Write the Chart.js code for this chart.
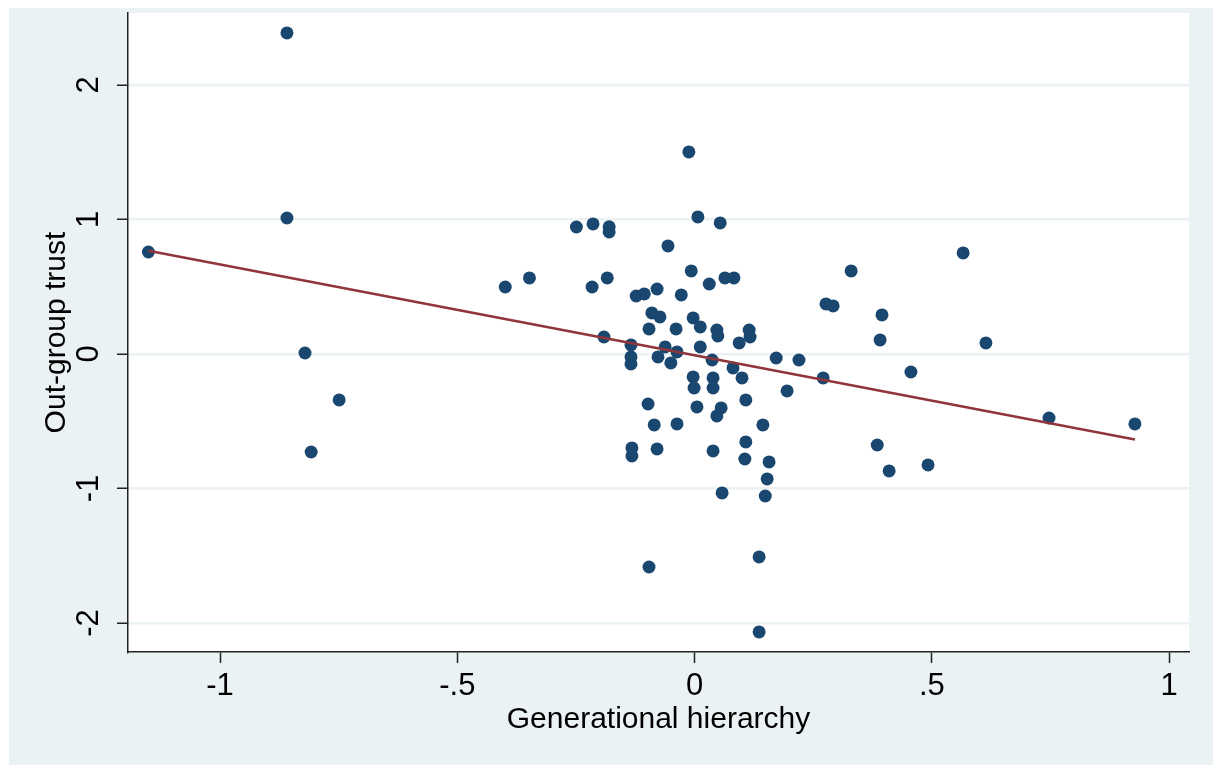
<!DOCTYPE html>
<html>
<head>
<meta charset="utf-8">
<script src="https://cdn.jsdelivr.net/npm/chart.js@4"></script>
<style>
  html, body { margin: 0; padding: 0; background: #fff; }
  #wrap { width: 1223px; height: 765px; position: relative; }
</style>
</head>
<body>
<div id="wrap"><canvas id="trustChart"></canvas></div>
<script>
// values (x = generational hierarchy, y = out-group trust)
const hierarchy = [
  -1.151, -0.859, -0.859, -0.821, -0.808, -0.749, -0.399, -0.348, -0.249, -0.214,
  -0.180, -0.180, -0.216, -0.184, -0.012, 0.007, 0.054, -0.056, -0.007, 0.031,
  0.064, 0.083, -0.123, -0.106, -0.079, -0.028, -0.090, -0.073, -0.096, -0.039,
  -0.003, 0.012, 0.047, 0.049, 0.115, 0.117, 0.094, -0.191, -0.134, -0.134,
  -0.134, -0.062, -0.037, -0.077, -0.050, 0.012, 0.037, 0.081, 0.100, 0.172,
  0.220, 0.195, -0.003, -0.001, 0.039, 0.039, -0.098, 0.005, 0.047, 0.056,
  0.108, -0.085, -0.037, 0.144, -0.132, -0.132, -0.079, 0.039, 0.108, 0.106,
  0.157, 0.153, 0.058, 0.149, -0.096, 0.136, 0.136, 0.277, 0.292, 0.395,
  0.391, 0.271, 0.456, 0.385, 0.410, 0.492, 0.330, 0.566, 0.614, 0.747,
  0.928
];
const trust = [
  0.758, 2.387, 1.011, 0.007, -0.729, -0.342, 0.498, 0.565, 0.944, 0.967,
  0.945, 0.907, 0.498, 0.565, 1.502, 1.019, 0.974, 0.803, 0.617, 0.520,
  0.565, 0.565, 0.431, 0.446, 0.483, 0.439, 0.305, 0.275, 0.186, 0.186,
  0.268, 0.201, 0.178, 0.134, 0.178, 0.126, 0.082, 0.126, 0.067, -0.022,
  -0.074, 0.052, 0.015, -0.022, -0.067, 0.052, -0.045, -0.104, -0.178, -0.030,
  -0.045, -0.275, -0.171, -0.253, -0.178, -0.253, -0.372, -0.394, -0.461, -0.401,
  -0.342, -0.528, -0.520, -0.528, -0.699, -0.758, -0.706, -0.721, -0.654, -0.781,
  -0.803, -0.929, -1.033, -1.056, -1.584, -1.509, -2.067, 0.372, 0.357, 0.290,
  0.104, -0.178, -0.134, -0.677, -0.870, -0.825, 0.617, 0.751, 0.082, -0.476,
  -0.520
];
// fitted line end points as drawn
const fitX = [-1.151, 0.928];
const fitY = [0.767, -0.636];

const xTicks = [-1, -0.5, 0, 0.5, 1];
const xTickLabels = ['-1', '-.5', '0', '.5', '1'];
const yTicks = [-2, -1, 0, 1, 2];
const yTickLabels = ['-2', '-1', '0', '1', '2'];

const stataBackground = {
  id: 'stataBackground',
  beforeDraw(chart) {
    const { ctx, chartArea } = chart;
    ctx.save();
    ctx.fillStyle = '#eaf2f3';
    ctx.fillRect(9, 8, 1204, 757);
    ctx.fillStyle = '#ffffff';
    ctx.fillRect(chartArea.left, chartArea.top, chartArea.right - chartArea.left, chartArea.bottom - chartArea.top);
    ctx.restore();
  }
};

const ctx = document.getElementById('trustChart').getContext('2d');
const chart = new Chart(ctx, {
  type: 'scatter',
  data: {
    datasets: [{
      type: 'line',
      label: 'Fitted values',
      data: fitX.map((x, i) => ({ x: x, y: fitY[i] })),
      borderColor: '#90353b',
      borderWidth: 2.5,
      pointRadius: 0,
      fill: false,
      order: 0
    }, {
      label: 'Out-group trust',
      data: hierarchy.map((x, i) => ({ x: x, y: trust[i] })),
      backgroundColor: '#1a476f',
      borderWidth: 0,
      pointRadius: 6.5,
      pointHoverRadius: 6.5,
      order: 1
    }]
  },
  options: {
    responsive: true,
    maintainAspectRatio: false,
    animation: false,
    layout: { padding: { left: 9, right: 34, top: 13, bottom: 0 } },
    plugins: {
      legend: { display: false },
      tooltip: { enabled: false }
    },
    scales: {
      x: {
        type: 'linear',
        min: -1.194,
        max: 1.042,
        afterBuildTicks: axis => { axis.ticks = xTicks.map(v => ({ value: v })); },
        afterFit: axis => { axis.height = 113; axis.paddingLeft = 0; axis.paddingRight = 0; },
        grid: { drawOnChartArea: false, tickColor: '#222', tickLength: 11, tickWidth: 1.5 },
        border: { color: '#222', width: 1.5 },
        ticks: {
          color: '#000',
          padding: 5,
          maxRotation: 0,
          font: { family: 'Liberation Sans, Arial', size: 31 },
          callback: value => xTickLabels[xTicks.indexOf(value)]
        },
        title: {
          display: true,
          text: 'Generational hierarchy',
          color: '#000',
          padding: { top: 0, bottom: 27 },
          font: { family: 'Liberation Sans, Arial', size: 30 }
        }
      },
      y: {
        type: 'linear',
        min: -2.216,
        max: 2.535,
        afterBuildTicks: axis => { axis.ticks = yTicks.map(v => ({ value: v })); },
        afterFit: axis => { axis.width = 119; axis.paddingTop = 0; axis.paddingBottom = 0; },
        grid: { color: '#eaf2f3', lineWidth: 2.5, tickColor: '#222', tickLength: 11, tickWidth: 1.5 },
        border: { color: '#222', width: 1.5 },
        ticks: {
          color: '#000',
          padding: 14,
          minRotation: 90,
          maxRotation: 90,
          crossAlign: 'center',
          font: { family: 'Liberation Sans, Arial', size: 31 },
          callback: value => yTickLabels[yTicks.indexOf(value)]
        },
        title: {
          display: true,
          text: 'Out-group trust',
          color: '#000',
          padding: { top: 30, bottom: 0 },
          font: { family: 'Liberation Sans, Arial', size: 30 }
        }
      }
    }
  },
  plugins: [stataBackground]
});
</script>
</body>
</html>
